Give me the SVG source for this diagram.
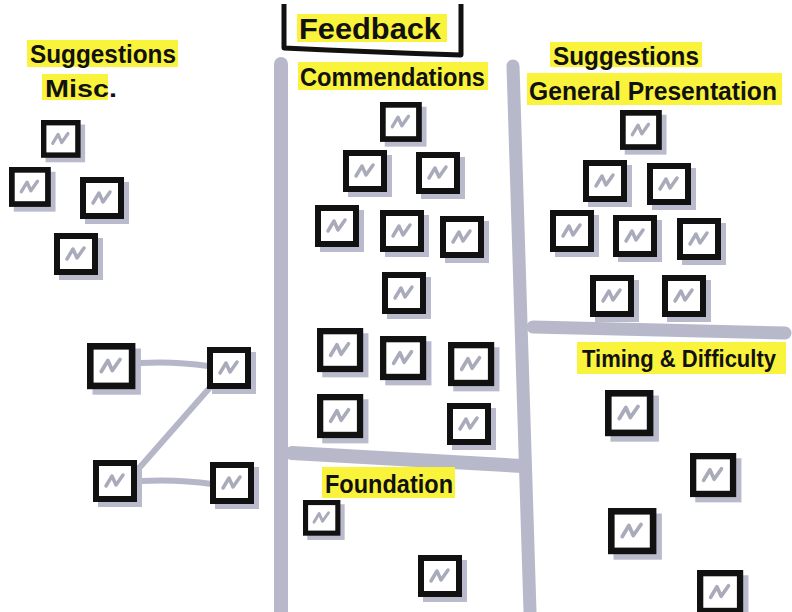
<svg xmlns="http://www.w3.org/2000/svg" xmlns:xlink="http://www.w3.org/1999/xlink" width="792" height="612" viewBox="0 0 792 612">
<style>
.hl{fill:#faf33c}
.lbl{font-family:"Liberation Sans","DejaVu Sans",sans-serif;font-weight:bold;fill:#111}
.bar{stroke:#b7b9ca;stroke-linecap:round;fill:none}
.conn{stroke:#b5b7c9;stroke-width:6;stroke-linecap:round;fill:none}
</style>
<defs>
<g id="node">
<rect x="5" y="5" width="44" height="42" fill="#b9bbcc"/>
<rect x="3" y="3" width="38" height="36" fill="#fff" stroke="#111" stroke-width="6"/>
<path d="M13,26 L19,16 L23,25 L30,15" stroke="#a9abbb" stroke-width="3.5" fill="none" stroke-linecap="round" stroke-linejoin="round"/>
</g>
</defs>
<rect width="792" height="612" fill="#fff"/>

<g id="dividers">
<line class="bar" x1="281" y1="64" x2="281" y2="612" stroke-width="14"/>
<line class="bar" x1="513" y1="66" x2="530" y2="612" stroke-width="13"/>
<line class="bar" x1="292" y1="453" x2="522" y2="466" stroke-width="14"/>
<line class="bar" x1="533" y1="327" x2="785" y2="333" stroke-width="13"/>
</g>

<g id="title">
<path d="M284,4 L284,48 Q370,52 461,55 L461,4" stroke="#111" stroke-width="5" fill="none" stroke-linejoin="round"/>
<rect class="hl" x="297" y="14" width="150" height="28"/>
<text class="lbl" x="299" y="39" font-size="30" textLength="142" lengthAdjust="spacingAndGlyphs">Feedback</text>
</g>

<g id="labels">
<rect class="hl" x="27" y="40" width="151" height="27"/>
<text class="lbl" x="30" y="63" font-size="26" textLength="146" lengthAdjust="spacingAndGlyphs">Suggestions</text>
<rect class="hl" x="42" y="74" width="66" height="26"/>
<text class="lbl" x="45" y="97" font-size="24" textLength="72" lengthAdjust="spacingAndGlyphs">Misc.</text>
<rect class="hl" x="298" y="62" width="190" height="28"/>
<text class="lbl" x="300" y="86" font-size="26" textLength="185" lengthAdjust="spacingAndGlyphs">Commendations</text>
<rect class="hl" x="550" y="42" width="152" height="25"/>
<text class="lbl" x="553" y="65" font-size="26" textLength="146" lengthAdjust="spacingAndGlyphs">Suggestions</text>
<rect class="hl" x="527" y="73" width="255" height="32"/>
<text class="lbl" x="529" y="100" font-size="26" textLength="248" lengthAdjust="spacingAndGlyphs">General Presentation</text>
<rect class="hl" x="577" y="342" width="209" height="32"/>
<text class="lbl" x="582" y="367" font-size="23" textLength="194" lengthAdjust="spacingAndGlyphs">Timing &amp; Difficulty</text>
<rect class="hl" x="322" y="467" width="133" height="31"/>
<text class="lbl" x="325" y="493" font-size="26" textLength="128" lengthAdjust="spacingAndGlyphs">Foundation</text>
</g>

<g id="connectors">
<path class="conn" d="M140,363 Q175,361 208,366"/>
<path class="conn" d="M213,384 L141,466"/>
<path class="conn" d="M141,481 Q178,479 212,484"/>
</g>

<g id="misc1"><use xlink:href="#node" transform="translate(41,120) scale(0.9)"/></g>
<g id="misc2"><use xlink:href="#node" transform="translate(9,167) scale(0.95)"/></g>
<g id="misc3"><use xlink:href="#node" transform="translate(80,177)"/></g>
<g id="misc4"><use xlink:href="#node" transform="translate(54,233)"/></g>

<g id="net1"><use xlink:href="#node" transform="translate(87,343) scale(1.1)"/></g>
<g id="net2"><use xlink:href="#node" transform="translate(207,347)"/></g>
<g id="net3"><use xlink:href="#node" transform="translate(93,460)"/></g>
<g id="net4"><use xlink:href="#node" transform="translate(210,462)"/></g>

<g id="comm1"><use xlink:href="#node" transform="translate(380,102) scale(0.95)"/></g>
<g id="comm2"><use xlink:href="#node" transform="translate(343,150)"/></g>
<g id="comm3"><use xlink:href="#node" transform="translate(416,152)"/></g>
<g id="comm4"><use xlink:href="#node" transform="translate(315,205)"/></g>
<g id="comm5"><use xlink:href="#node" transform="translate(380,210)"/></g>
<g id="comm6"><use xlink:href="#node" transform="translate(440,216)"/></g>
<g id="comm7"><use xlink:href="#node" transform="translate(382,272)"/></g>
<g id="comm8"><use xlink:href="#node" transform="translate(317,328) scale(1.05)"/></g>
<g id="comm9"><use xlink:href="#node" transform="translate(380,336) scale(1.05)"/></g>
<g id="comm10"><use xlink:href="#node" transform="translate(448,342) scale(1.05)"/></g>
<g id="comm11"><use xlink:href="#node" transform="translate(317,394) scale(1.05)"/></g>
<g id="comm12"><use xlink:href="#node" transform="translate(447,403)"/></g>

<g id="found1"><use xlink:href="#node" transform="translate(303,500) scale(0.85)"/></g>
<g id="found2"><use xlink:href="#node" transform="translate(418,555)"/></g>

<g id="gen1"><use xlink:href="#node" transform="translate(620,110) scale(0.95)"/></g>
<g id="gen2"><use xlink:href="#node" transform="translate(583,160)"/></g>
<g id="gen3"><use xlink:href="#node" transform="translate(647,163)"/></g>
<g id="gen4"><use xlink:href="#node" transform="translate(550,210)"/></g>
<g id="gen5"><use xlink:href="#node" transform="translate(613,215)"/></g>
<g id="gen6"><use xlink:href="#node" transform="translate(677,218)"/></g>
<g id="gen7"><use xlink:href="#node" transform="translate(590,275)"/></g>
<g id="gen8"><use xlink:href="#node" transform="translate(662,275)"/></g>

<g id="time1"><use xlink:href="#node" transform="translate(605,390) scale(1.1)"/></g>
<g id="time2"><use xlink:href="#node" transform="translate(690,453) scale(1.05)"/></g>
<g id="time3"><use xlink:href="#node" transform="translate(608,508) scale(1.1)"/></g>
<g id="time4"><use xlink:href="#node" transform="translate(697,570) scale(1.05)"/></g>
</svg>
